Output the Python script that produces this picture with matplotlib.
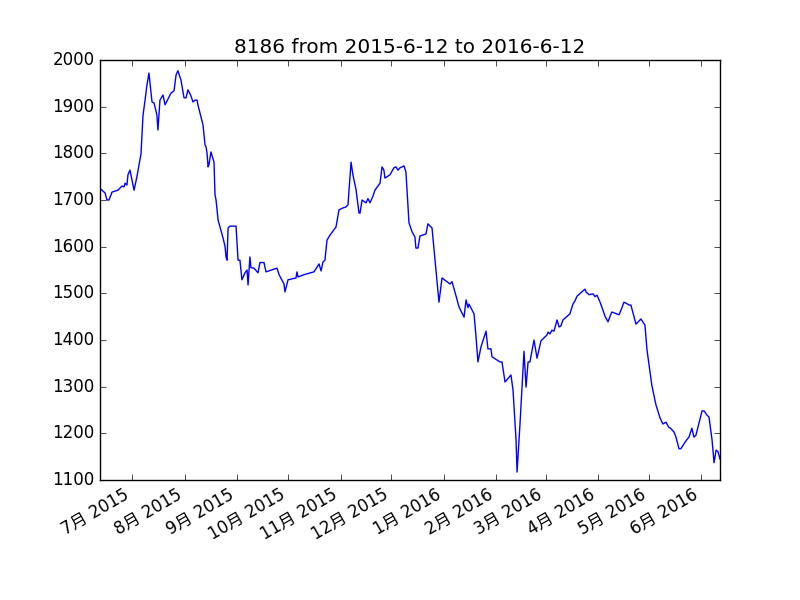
import matplotlib
matplotlib.use("Agg")
import matplotlib.pyplot as plt
import matplotlib.dates as mdates
import datetime as dt

plt.style.use("classic")
plt.rcParams['font.family'] = ['DejaVu Sans', 'Noto Sans CJK SC']

start = dt.datetime(2015, 6, 12)
end = dt.datetime(2016, 6, 12)

day_offsets = [0,3.0,4.1,5.3,7.1,10.6,13.0,14.2,14.8,15.9,16.5,17.7,20.1,21.8,23.6,24.2,25.4,26.6,27.7,28.9,
 30.7,31.9,33.6,34.2,35.4,37.2,38.4,41.9,43.7,44.9,46.0,47.8,49.6,50.8,51.9,53.7,54.9,56.1,57.3,57.8,
 60.8,61.4,62.0,62.6,63.2,63.8,64.3,65.5,67.3,67.9,68.5,69.7,72.6,73.8,74.4,75.0,75.6,76.7,80.3,81.5,
 82.6,83.8,85.6,86.8,87.4,88.5,89.1,90.9,93.3,94.4,96.8,98.0,104.5,105.7,108.6,109.2,111.0,115.7,116.3,116.9,
 120.4,126.3,129.3,130.5,131.6,132.8,134.0,135.8,139.3,141.1,143.4,145.2,146.4,148.2,149.3,151.1,152.9,153.5,154.7,157.0,
 158.2,159.4,161.2,162.3,165.3,166.5,167.6,168.2,171.2,173.5,174.7,175.9,177.1,179.5,180.6,182.4,184.2,185.9,186.5,187.7,
 188.9,192.4,193.6,196.0,197.8,200.1,201.9,206.6,207.8,210.2,211.9,214.9,216.1,217.2,217.8,220.8,222.0,223.1,224.9,227.9,
 229.0,230.8,231.4,236.1,237.3,239.1,242.6,243.8,245.6,246.2,247.9,250.3,251.5,252.7,253.8,256.2,258.0,260.3,263.9,264.5,
 265.6,266.8,268.0,269.8,271.0,272.1,273.3,277.4,279.2,280.4,281.6,286.3,286.9,288.7,291.0,292.2,293.4,295.2,296.9,298.1,
 299.9,301.1,302.2,306.4,308.1,309.3,310.5,312.3,313.4,316.4,318.8,319.3,321.7,322.9,325.8,328.2,330.6,332.3,334.1,335.9,
 336.5,338.8,340.0,341.8,342.9,345.9,347.7,349.4,350.6,351.8,354.2,355.4,356.6,358.3,359.5,361.3,362.5,363.7,364.8,366.0]

prices = [1725,1715,1700,1700,1717,1721,1730,1728,1736,1732,1754,1764,1721,1750,1786,1799,1882,1914,1946,1972,
 1910,1908,1882,1850,1914,1925,1904,1929,1934,1968,1977,1957,1919,1919,1936,1923,1910,1914,1914,1904,
 1861,1840,1818,1814,1800,1771,1775,1803,1781,1711,1700,1657,1619,1601,1578,1571,1640,1644,1644,1571,
 1571,1529,1544,1550,1518,1578,1555,1554,1544,1566,1566,1546,1554,1540,1520,1503,1529,1533,1546,1535,
 1540,1546,1563,1548,1567,1571,1614,1625,1642,1679,1683,1685,1690,1781,1754,1723,1672,1672,1700,1694,
 1703,1694,1709,1721,1736,1771,1764,1747,1754,1769,1771,1764,1769,1773,1760,1651,1632,1621,1597,1597,
 1623,1627,1649,1640,1571,1481,1533,1520,1525,1494,1471,1449,1486,1469,1477,1456,1406,1353,1385,1419,
 1381,1381,1364,1353,1353,1310,1325,1293,1186,1117,1218,1376,1299,1353,1353,1400,1361,1398,1411,1417,
 1413,1421,1419,1443,1428,1430,1443,1456,1477,1484,1494,1509,1503,1497,1499,1493,1496,1481,1464,1451,
 1439,1451,1460,1454,1469,1481,1479,1475,1475,1434,1443,1445,1432,1379,1302,1261,1233,1220,1224,1212,
 1212,1203,1192,1167,1167,1184,1192,1211,1192,1196,1231,1248,1248,1239,1235,1186,1137,1164,1161,1145]

dates = [start + dt.timedelta(days=d) for d in day_offsets]

fig, ax = plt.subplots(figsize=(8, 6), dpi=100)
ax.plot(dates, prices, color="b", linewidth=1)
ax.set_xlim(start, end)
ax.set_ylim(1100, 2000)
ax.xaxis.set_major_locator(mdates.MonthLocator())
ax.xaxis.set_major_formatter(mdates.DateFormatter("%-m月 %Y"))
ax.set_title("8186 from 2015-6-12 to 2016-6-12")
fig.autofmt_xdate()
fig.savefig("out.png", dpi=100)
